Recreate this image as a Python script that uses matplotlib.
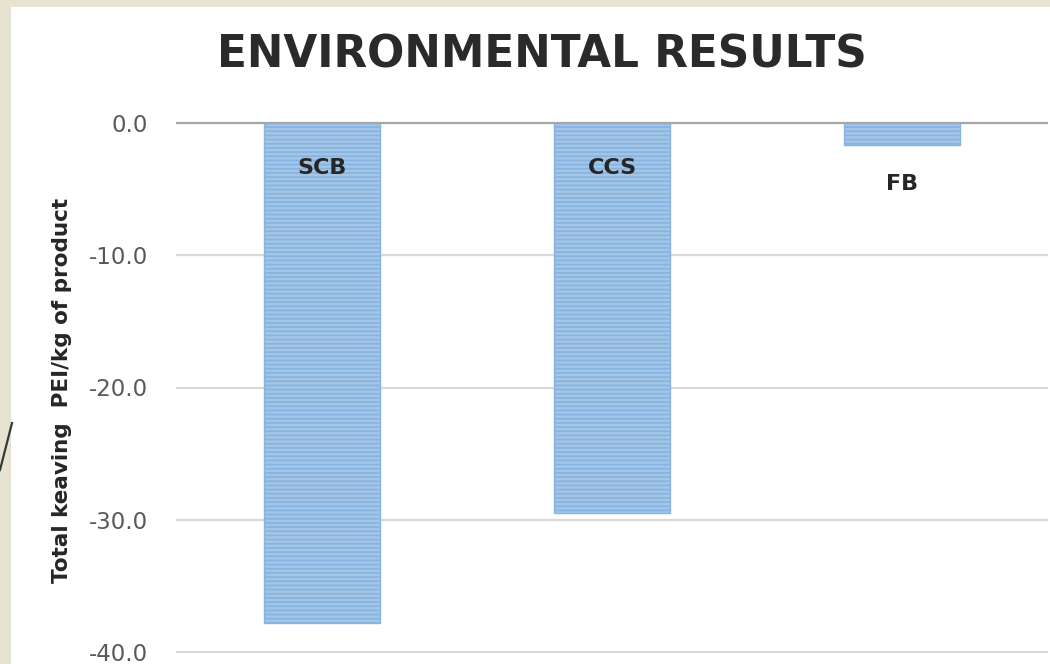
import matplotlib
matplotlib.use("Agg")
import matplotlib.pyplot as plt
from matplotlib.patches import Rectangle
from matplotlib.lines import Line2D

# Data
categories = ["SCB", "CCS", "FB"]
pei_values = [-37.8, -29.5, -1.7]
y_ticks = [0, -10, -20, -30, -40]

W, H = 1050, 664
fig = plt.figure(figsize=(W / 100, H / 100), dpi=100)
fig.patch.set_facecolor("#e7e3d3")

# white slide panel + small decorative stroke on the left
fig.patches.append(Rectangle((11 / W, 0), 1, 1 - 7 / H, transform=fig.transFigure,
                             facecolor="white", edgecolor="none", zorder=-5))
fig.lines.append(Line2D([0, 12 / W], [1 - 470 / H, 1 - 423 / H], transform=fig.transFigure,
                        color="#2f3d30", lw=1.6, zorder=-4))

ax = fig.add_axes([177 / W, 12 / H, (1047 - 177) / W, (652 - 123) / H])
ax.set_facecolor("none")
ax.set_zorder(2)

plt.rcParams["hatch.linewidth"] = 1.2
bars = ax.bar(range(len(categories)), pei_values, width=0.4, color="#a3c5e6",
              edgecolor="#86b3df", linewidth=1.0, hatch="----", zorder=3)

# bar labels: inside the bar near the top, or below a short bar
for i, (cat, v) in enumerate(zip(categories, pei_values)):
    if v < -5:
        ax.annotate(cat, xy=(i, 0), xytext=(0, -32.5), textcoords="offset points",
                    ha="center", va="center", fontsize=16, fontweight="bold",
                    color="#262626", zorder=4)
    else:
        ax.annotate(cat, xy=(i, v), xytext=(0, -28), textcoords="offset points",
                    ha="center", va="center", fontsize=16, fontweight="bold",
                    color="#262626", zorder=4)

ax.set_xlim(-0.5, 2.5)
ax.set_ylim(-40, 0)
ax.set_yticks(y_ticks)
ax.set_yticklabels([f"{t:.1f}" for t in y_ticks])
ax.set_xticks([])
ax.tick_params(axis="y", length=0, pad=21, labelsize=16.5, labelcolor="#595959")

for t in y_ticks[1:]:
    ax.axhline(t, color="#d9d9d9", lw=1.6, zorder=1, clip_on=False)
ax.axhline(0, color="#a6a6a6", lw=1.6, zorder=5, clip_on=False)

for s in ax.spines.values():
    s.set_visible(False)

fig.text(542 / W, 1 - 55 / H, "ENVIRONMENTAL RESULTS", ha="center", va="center",
         fontsize=31.5, fontweight="bold", color="#2a2a2a")
fig.text(62 / W, 1 - 390 / H, "Total keaving  PEI/kg of product", rotation=90,
         ha="center", va="center", fontsize=15.5, fontweight="bold", color="#262626")

fig.savefig("out.png", dpi=100)
